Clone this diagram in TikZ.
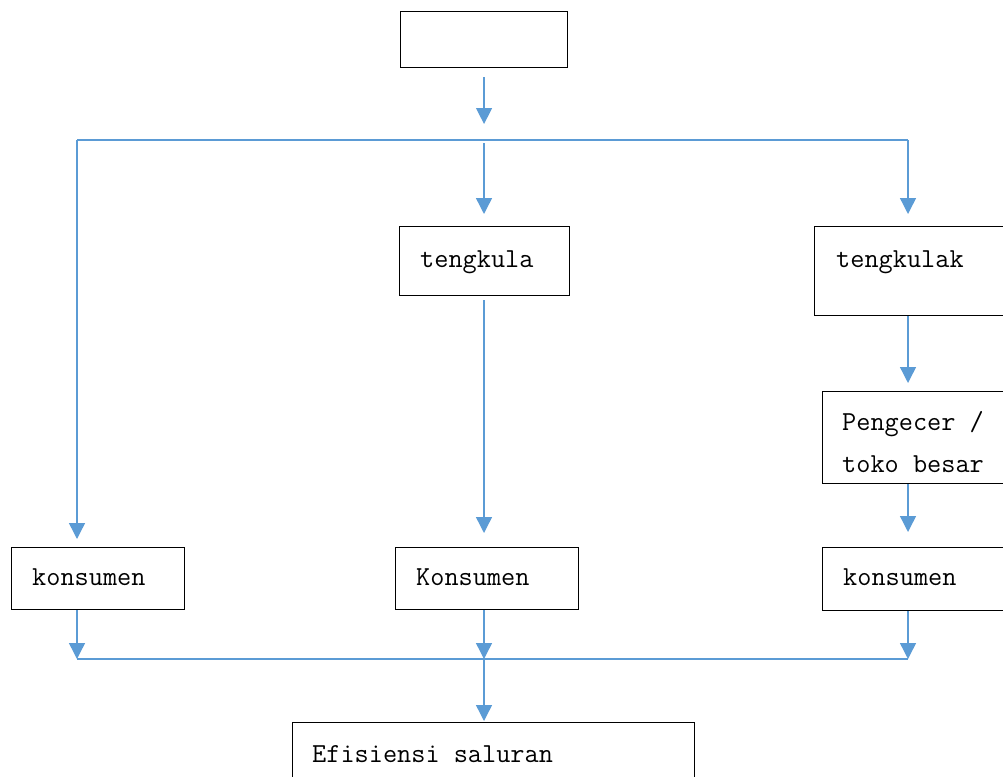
\documentclass[tikz,border=0pt]{standalone}
\usepackage{fontspec}
\usetikzlibrary{arrows.meta}
\definecolor{flow}{HTML}{5B9BD5}
\tikzset{
  box/.style={draw=black, line width=1.1pt, anchor=north west, inner sep=0pt},
  lbl/.style={anchor=base west, inner sep=0pt, font=\ttfamily\fontsize{27.5}{42}\selectfont, align=left},
  conn/.style={draw=flow, line width=1.4pt},
  arr/.style={conn, -{Triangle[width=16pt,length=16pt]}},
}
\begin{document}
\begin{tikzpicture}[x=1pt,y=-1pt]
\useasboundingbox (0,0) rectangle (1003,776);
\clip (0,0) rectangle (1003,776);
% boxes
\node[box, minimum width=167pt, minimum height=56pt] (top) at (400,11) {};
\node[box, minimum width=170pt, minimum height=69pt] (tk1) at (399,226) {};
\node[box, minimum width=220pt, minimum height=89pt] (tk2) at (814,226) {};
\node[box, minimum width=220pt, minimum height=92pt] (peng) at (822,391) {};
\node[box, minimum width=173pt, minimum height=62pt] (k1) at (11,547) {};
\node[box, minimum width=183pt, minimum height=62pt] (k2) at (395,547) {};
\node[box, minimum width=220pt, minimum height=63pt] (k3) at (822,547) {};
\node[box, minimum width=402pt, minimum height=80pt] (eff) at (292,722) {};
% labels
\node[lbl] (t1) at (420,267) {tengkula};
\node[lbl] (t2) at (836,267) {tengkulak};
\node[lbl] (t3) at (842,472) {Pengecer /\\toko besar};
\node[lbl] (t4) at (32,585) {konsumen};
\node[lbl] (t5) at (416,585) {Konsumen};
\node[lbl] (t6) at (843,585) {konsumen};
\node[lbl] (t7) at (312,762) {Efisiensi saluran};
% junction points
\coordinate (jl) at (77,140);
\coordinate (jt) at (484,140);
\coordinate (jr) at (908,140);
\coordinate (bl) at (77,659);
\coordinate (bm) at (484,659);
\coordinate (br) at (908,659);
% connectors
\draw[conn] (jl) -- (jr);
\draw[arr, shorten <=9pt, shorten >=16pt] (top.south) -- (top.south |- jt);
\draw[arr, shorten >=8pt] (jl) -- (jl |- k1.north);
\draw[arr, shorten <=3pt, shorten >=12pt] (jt) -- (jt |- tk1.north);
\draw[arr, shorten >=12pt] (jr) -- (jr |- tk2.north);
\draw[arr, shorten <=4pt, shorten >=14pt] (jt |- tk1.south) -- (jt |- k2.north);
\draw[arr, shorten >=8pt] (jr |- tk2.south) -- (jr |- peng.north);
\draw[arr, shorten >=15pt] (jr |- peng.south) -- (jr |- k3.north);
\draw[conn] (bl) -- (br);
\draw[arr] (bl |- k1.south) -- (bl);
\draw[arr] (bm |- k2.south) -- (bm);
\draw[arr] (br |- k3.south) -- (br);
\draw[arr, shorten >=1pt] (bm) -- (bm |- eff.north);
\end{tikzpicture}
\end{document}
